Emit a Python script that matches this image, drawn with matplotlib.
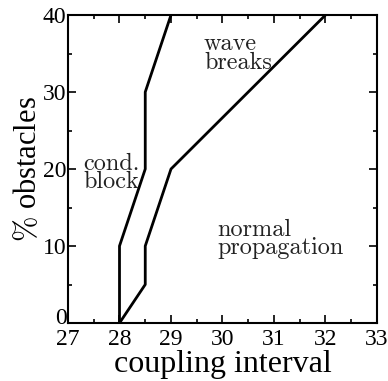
import numpy as np
import matplotlib
matplotlib.use('Agg')
import matplotlib.pyplot as plt
import matplotlib.transforms as mtransforms
from matplotlib.ticker import MultipleLocator

# boundary: conduction block
block_x = [28.0, 28.0, 28.5, 28.5, 29.0]
block_y = [0, 10, 20, 30, 40]

# boundary: wave breaks
break_x = [28.0, 28.5, 28.5, 29.0, 32.0]
break_y = [0, 5, 10, 20, 40]

plt.rcParams['font.family'] = ['Liberation Serif', 'DejaVu Serif']
plt.rcParams['mathtext.fontset'] = 'cm'

fig = plt.figure(figsize=(3.88, 3.81), dpi=100, facecolor='white')
ax = fig.add_axes([68/388, 1 - 323/381, (377-68)/388, (323-15)/381])

ax.plot(block_x, block_y, color='black', linewidth=2)
ax.plot(break_x, break_y, color='black', linewidth=2)

ax.set_xlim(27, 33)
ax.set_ylim(0, 40)
ax.xaxis.set_major_locator(MultipleLocator(1))
ax.xaxis.set_minor_locator(MultipleLocator(0.5))
ax.yaxis.set_major_locator(MultipleLocator(10))
ax.yaxis.set_minor_locator(MultipleLocator(5))
ax.tick_params(which='both', direction='in', top=True, right=True, width=1.2)
ax.tick_params(which='major', length=6, labelsize=17, pad=1)
ax.tick_params(axis='x', which='major', pad=4)
ax.tick_params(which='minor', length=3)
for s in ax.spines.values():
    s.set_linewidth(1.5)

ax.set_xlabel('coupling interval', fontsize=23, labelpad=0)
ax.set_ylabel(r'$\%$ obstacles', fontsize=22, labelpad=0)

# region labels
lab = dict(fontname='cmr10', fontsize=17.5, color='#222222', linespacing=0.8, va='center', ha='left')
ax.text(29.64, 35.0, 'wave\nbreaks', **lab)
ax.text(27.3, 19.5, 'cond.\nblock', **lab)
ax.text(29.9, 10.9, 'normal\npropagation', **lab)

# the "0" sits on the axis line, above the "27"
fig.canvas.draw()
for t in ax.yaxis.get_major_ticks():
    if abs(t.get_loc()) < 1e-9:
        t.label1.set_verticalalignment('baseline')
        t.label1.set_transform(t.label1.get_transform()
                               + mtransforms.ScaledTranslation(0, -1/72, fig.dpi_scale_trans))

fig.savefig('out.png', dpi=100, facecolor='white')
